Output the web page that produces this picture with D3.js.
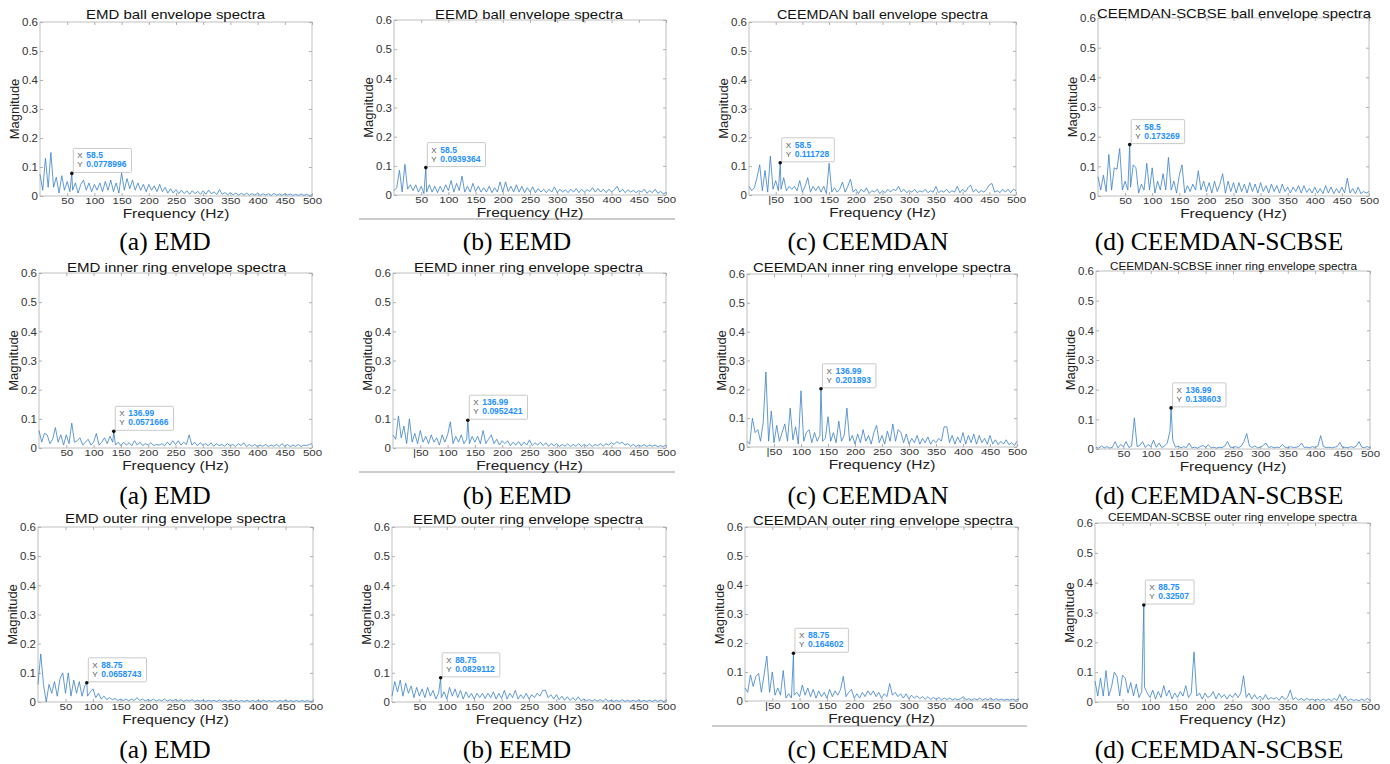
<!DOCTYPE html>
<html>
<head>
<meta charset="utf-8">
<script src="https://cdn.jsdelivr.net/npm/d3@7"></script>
<style>
body { margin: 0; background: #fff; }
text { font-family: "Liberation Sans", Arial, sans-serif; }
</style>
</head>
<body>
<div id="chart"></div>
<script>
const freqs = d3.range(0, 501, 5);

const emdBall = [0.075,0.02,0.13,0.03,0.15,0.03,0.065,0.01,0.07,0.02,0.05,0.015,0.02,0.045,0.01,0.04,0.055,0.02,0.045,0.015,
  0.04,0.02,0.045,0.015,0.05,0.02,0.055,0.015,0.045,0.01,0.08,0.02,0.06,0.025,0.055,0.02,0.045,0.02,0.04,0.015,
  0.04,0.02,0.035,0.015,0.04,0.015,0.03,0.01,0.025,0.01,0.022,0.008,0.02,0.008,0.018,0.006,0.018,0.008,0.016,0.006,
  0.018,0.006,0.02,0.008,0.014,0.005,0.022,0.006,0.012,0.004,0.012,0.004,0.01,0.003,0.009,0.003,0.01,0.003,0.008,0.003,
  0.01,0.002,0.008,0.003,0.008,0.002,0.009,0.003,0.007,0.002,0.008,0.003,0.007,0.002,0.006,0.002,0.007,0.002,0.006,0.002,0.004];
const eemdBall = [0.015,0.025,0.085,0.01,0.105,0.02,0.035,0.015,0.035,0.01,0.03,0.005,0.01,0.035,0.01,0.03,0.008,0.03,0.01,0.035,
  0.015,0.05,0.01,0.04,0.015,0.065,0.01,0.03,0.01,0.04,0.012,0.03,0.01,0.025,0.01,0.03,0.008,0.025,0.01,0.045,
  0.01,0.045,0.012,0.03,0.01,0.035,0.01,0.03,0.008,0.025,0.01,0.028,0.008,0.022,0.01,0.02,0.008,0.02,0.01,0.028,
  0.008,0.02,0.01,0.018,0.008,0.02,0.01,0.022,0.008,0.02,0.01,0.018,0.012,0.025,0.01,0.022,0.01,0.02,0.008,0.02,
  0.01,0.018,0.03,0.01,0.02,0.008,0.018,0.01,0.016,0.008,0.015,0.01,0.02,0.006,0.015,0.008,0.02,0.006,0.012,0.005,0.008];
const ceemdanBall = [0.03,0.015,0.025,0.06,0.105,0.015,0.085,0.01,0.135,0.02,0.05,0.015,0.02,0.06,0.015,0.03,0.02,0.03,0.015,0.05,
  0.01,0.03,0.06,0.01,0.03,0.015,0.03,0.01,0.03,0.005,0.11,0.01,0.025,0.01,0.02,0.045,0.01,0.03,0.055,0.01,
  0.02,0.005,0.02,0.01,0.025,0.005,0.015,0.01,0.02,0.005,0.015,0.008,0.02,0.01,0.02,0.015,0.03,0.01,0.02,0.008,
  0.015,0.01,0.02,0.008,0.015,0.01,0.02,0.008,0.015,0.01,0.03,0.008,0.015,0.01,0.02,0.008,0.015,0.01,0.03,0.008,
  0.02,0.01,0.025,0.035,0.01,0.02,0.008,0.015,0.01,0.02,0.035,0.04,0.01,0.015,0.008,0.02,0.01,0.02,0.008,0.02,0.015];
const scbseBall = [0.065,0.02,0.07,0.015,0.14,0.02,0.095,0.09,0.16,0.02,0.05,0.02,0.03,0.105,0.095,0.01,0.04,0.02,0.11,0.02,
  0.095,0.01,0.05,0.02,0.075,0.02,0.13,0.02,0.05,0.01,0.07,0.105,0.01,0.035,0.015,0.04,0.02,0.085,0.02,0.05,
  0.015,0.045,0.01,0.05,0.015,0.04,0.075,0.01,0.05,0.015,0.045,0.01,0.045,0.015,0.04,0.01,0.045,0.015,0.04,0.01,
  0.045,0.015,0.035,0.01,0.04,0.015,0.035,0.01,0.04,0.015,0.03,0.01,0.03,0.015,0.035,0.01,0.035,0.012,0.025,0.01,
  0.03,0.01,0.025,0.008,0.035,0.01,0.03,0.008,0.025,0.01,0.03,0.01,0.06,0.01,0.025,0.008,0.03,0.008,0.015,0.01,0.015];

const emdInner = [0.06,0.02,0.05,0.045,0.015,0.03,0.07,0.02,0.045,0.01,0.045,0.015,0.085,0.02,0.025,0.035,0.01,0.02,0.03,0.01,
  0.02,0.05,0.01,0.02,0.035,0.015,0.04,0.02,0.01,0.02,0.008,0.02,0.01,0.018,0.008,0.025,0.01,0.02,0.008,0.015,
  0.01,0.018,0.008,0.012,0.01,0.015,0.008,0.02,0.01,0.025,0.012,0.025,0.01,0.02,0.012,0.045,0.01,0.02,0.008,0.018,
  0.01,0.015,0.008,0.018,0.006,0.015,0.008,0.012,0.006,0.015,0.008,0.012,0.005,0.015,0.008,0.018,0.005,0.012,0.006,0.012,
  0.005,0.01,0.006,0.012,0.005,0.01,0.006,0.012,0.005,0.015,0.006,0.012,0.005,0.01,0.006,0.012,0.005,0.01,0.008,0.012,0.015];
const eemdInner = [0.045,0.03,0.11,0.035,0.075,0.015,0.1,0.02,0.05,0.015,0.06,0.02,0.04,0.015,0.045,0.02,0.035,0.01,0.045,0.02,
  0.045,0.09,0.015,0.04,0.02,0.045,0.015,0.03,0.015,0.04,0.02,0.04,0.015,0.06,0.015,0.03,0.045,0.015,0.03,0.01,
  0.025,0.015,0.025,0.008,0.02,0.01,0.022,0.008,0.02,0.01,0.028,0.008,0.018,0.01,0.02,0.008,0.018,0.006,0.015,0.008,
  0.015,0.005,0.012,0.006,0.014,0.005,0.012,0.006,0.015,0.005,0.012,0.006,0.014,0.005,0.012,0.008,0.015,0.006,0.015,0.01,
  0.018,0.012,0.022,0.015,0.02,0.01,0.015,0.006,0.012,0.005,0.01,0.006,0.012,0.005,0.01,0.006,0.01,0.005,0.008,0.005,0.01];
const ceemdanInner = [0.02,0.01,0.1,0.05,0.06,0.02,0.085,0.26,0.02,0.125,0.015,0.075,0.02,0.05,0.08,0.02,0.135,0.025,0.07,0.01,
  0.195,0.02,0.05,0.06,0.015,0.05,0.02,0.04,0.02,0.03,0.105,0.02,0.05,0.015,0.09,0.02,0.04,0.135,0.02,0.04,
  0.01,0.045,0.015,0.06,0.02,0.04,0.01,0.05,0.075,0.015,0.04,0.01,0.055,0.02,0.08,0.02,0.06,0.05,0.015,0.045,
  0.01,0.03,0.015,0.04,0.01,0.03,0.015,0.035,0.01,0.025,0.015,0.03,0.02,0.07,0.07,0.015,0.04,0.01,0.035,0.015,
  0.05,0.01,0.04,0.015,0.045,0.01,0.04,0.015,0.03,0.01,0.04,0.01,0.025,0.008,0.02,0.01,0.025,0.008,0.015,0.005,0.02];
const scbseInner = [0.005,0.003,0.01,0.004,0.008,0.003,0.006,0.025,0.004,0.015,0.008,0.025,0.005,0.01,0.105,0.008,0.012,0.025,0.005,0.015,
  0.008,0.03,0.006,0.02,0.005,0.01,0.02,0.06,0.03,0.006,0.01,0.004,0.008,0.005,0.02,0.004,0.006,0.003,0.008,0.012,
  0.005,0.015,0.004,0.006,0.003,0.006,0.005,0.01,0.025,0.006,0.005,0.008,0.004,0.01,0.025,0.052,0.01,0.005,0.01,0.004,
  0.006,0.012,0.02,0.005,0.008,0.004,0.006,0.005,0.015,0.006,0.004,0.008,0.005,0.006,0.008,0.02,0.005,0.006,0.004,0.008,
  0.005,0.01,0.045,0.008,0.005,0.006,0.004,0.006,0.008,0.022,0.005,0.006,0.004,0.008,0.005,0.01,0.025,0.006,0.005,0.008,0.004];

const emdOuter = [0.06,0.165,0.06,0.0,0.06,0.03,0.07,0.02,0.08,0.1,0.03,0.1,0.02,0.075,0.03,0.07,0.02,0.055,0.02,0.035,
  0.045,0.015,0.03,0.01,0.02,0.008,0.015,0.008,0.012,0.005,0.01,0.005,0.01,0.004,0.01,0.005,0.015,0.005,0.01,0.004,
  0.008,0.004,0.01,0.003,0.008,0.004,0.01,0.003,0.008,0.003,0.009,0.003,0.008,0.002,0.007,0.003,0.008,0.002,0.006,0.003,
  0.007,0.002,0.006,0.003,0.006,0.002,0.007,0.002,0.006,0.002,0.005,0.002,0.006,0.002,0.005,0.002,0.006,0.002,0.005,0.002,
  0.005,0.002,0.006,0.002,0.005,0.002,0.005,0.002,0.005,0.002,0.006,0.002,0.005,0.002,0.005,0.002,0.005,0.002,0.005,0.002,0.004];
const eemdOuter = [0.02,0.07,0.035,0.075,0.02,0.065,0.03,0.055,0.015,0.05,0.02,0.045,0.015,0.05,0.02,0.04,0.01,0.03,0.015,0.035,
  0.01,0.05,0.02,0.045,0.015,0.04,0.01,0.035,0.015,0.03,0.01,0.03,0.015,0.03,0.012,0.03,0.015,0.035,0.01,0.03,
  0.012,0.04,0.01,0.03,0.015,0.04,0.01,0.025,0.012,0.03,0.01,0.025,0.015,0.03,0.02,0.04,0.04,0.015,0.025,0.01,
  0.025,0.008,0.02,0.006,0.018,0.005,0.015,0.005,0.018,0.004,0.01,0.004,0.008,0.003,0.008,0.003,0.008,0.002,0.01,0.003,
  0.006,0.002,0.006,0.002,0.008,0.002,0.006,0.002,0.006,0.002,0.007,0.002,0.006,0.002,0.006,0.002,0.007,0.002,0.006,0.002,0.005];
const ceemdanOuter = [0.045,0.03,0.09,0.05,0.085,0.095,0.03,0.09,0.155,0.03,0.1,0.02,0.045,0.02,0.105,0.01,0.025,0.01,0.02,0.03,
  0.015,0.055,0.02,0.045,0.015,0.04,0.01,0.035,0.015,0.03,0.01,0.04,0.015,0.035,0.02,0.04,0.085,0.015,0.03,0.04,
  0.01,0.025,0.01,0.03,0.015,0.035,0.02,0.035,0.015,0.03,0.01,0.025,0.015,0.06,0.02,0.03,0.015,0.025,0.01,0.025,
  0.008,0.02,0.01,0.018,0.008,0.015,0.006,0.015,0.005,0.012,0.006,0.012,0.004,0.01,0.005,0.01,0.004,0.008,0.004,0.008,
  0.015,0.004,0.008,0.003,0.008,0.004,0.01,0.003,0.008,0.004,0.01,0.003,0.008,0.003,0.007,0.003,0.006,0.003,0.007,0.003,0.006];
const scbseOuter = [0.07,0.02,0.08,0.02,0.105,0.02,0.05,0.1,0.085,0.02,0.09,0.08,0.03,0.065,0.02,0.06,0.015,0.035,0.05,0.03,
  0.015,0.04,0.01,0.035,0.015,0.055,0.02,0.04,0.01,0.03,0.015,0.035,0.02,0.055,0.015,0.03,0.168,0.02,0.03,0.01,
  0.03,0.015,0.02,0.035,0.01,0.03,0.015,0.025,0.01,0.025,0.015,0.03,0.015,0.03,0.088,0.015,0.03,0.01,0.025,0.01,
  0.02,0.008,0.025,0.008,0.015,0.01,0.015,0.006,0.02,0.008,0.015,0.04,0.008,0.015,0.006,0.012,0.005,0.012,0.006,0.01,
  0.005,0.01,0.004,0.01,0.005,0.01,0.004,0.012,0.005,0.025,0.005,0.02,0.004,0.01,0.005,0.008,0.004,0.01,0.004,0.012,0.005];

// Data-tip readouts (one frequency per fault type, magnitude per method)
const tipFreq = [58.5, 136.99, 88.75];
const tipFreqText = ["58.5", "136.99", "88.75"];
const tipMag = [
  [0.0778996, 0.0939364, 0.111728, 0.173269],
  [0.0571666, 0.0952421, 0.201893, 0.138603],
  [0.0658743, 0.0829112, 0.164602, 0.32507]
];
const tipMagText = [
  ["0.0778996", "0.0939364", "0.111728", "0.173269"],
  ["0.0571666", "0.0952421", "0.201893", "0.138603"],
  ["0.0658743", "0.0829112", "0.164602", "0.32507"]
];

const methods = ["EMD", "EEMD", "CEEMDAN", "CEEMDAN-SCBSE"];
const faults = ["ball", "inner ring", "outer ring"];
const captions = ["(a) EMD", "(b) EEMD", "(c) CEEMDAN", "(d) CEEMDAN-SCBSE"];
const xTicks = [50, 100, 150, 200, 250, 300, 350, 400, 450, 500];
const yTicks = [0, 0.1, 0.2, 0.3, 0.4, 0.5, 0.6];

const series = [
  [emdBall, eemdBall, ceemdanBall, scbseBall],
  [emdInner, eemdInner, ceemdanInner, scbseInner],
  [emdOuter, eemdOuter, ceemdanOuter, scbseOuter]
];

const layout = [
  {l:40,t:22,r:312,b:196, tt:[86,265,14], bar:false},
  {l:394,t:20,r:666,b:195, tt:[435,623,14], bar:false},
  {l:749,t:22,r:1016,b:195, tt:[777,988,14], bar:true},
  {l:1098,t:18,r:1369,b:196, tt:[1097,1371,13], bar:false},
  {l:39,t:273,r:312,b:448, tt:[67,286,267], bar:false},
  {l:393,t:273,r:666,b:448, tt:[414,643,267], bar:true},
  {l:747,t:274,r:1017,b:447, tt:[753,1011,267], bar:true},
  {l:1096,t:271,r:1370,b:449, tt:[1110,1357,266], bar:false},
  {l:38,t:527,r:313,b:702, tt:[65,286,518], bar:false},
  {l:392,t:527,r:666,b:702, tt:[413,643,519], bar:false},
  {l:745,t:527,r:1018,b:701, tt:[753,1013,520], bar:true},
  {l:1095,t:523,r:1370,b:702, tt:[1108,1357,517], bar:false}
];
const captionX = [165, 517, 868, 1219];
const captionY = [250, 504, 758];

const svg = d3.select("#chart").append("svg")
    .attr("width", 1390)
    .attr("height", 764)
    .style("background", "#fff");

// thin rules left over from the page layout
[[359, 675, 219], [359, 675, 472], [712, 1027, 726]].forEach(r => {
  svg.append("line")
      .attr("x1", r[0]).attr("x2", r[1]).attr("y1", r[2]).attr("y2", r[2])
      .attr("stroke", "#9a9a9a").attr("stroke-width", 1);
});

layout.forEach((p, k) => {
  const row = Math.floor(k / 4), col = k % 4;
  const x = d3.scaleLinear().domain([0, 500]).range([p.l, p.r]);
  const y = d3.scaleLinear().domain([0, 0.6]).range([p.b, p.t]);
  const g = svg.append("g");

  // axes with inward ticks on all four sides
  const fmtX = d => (p.bar && d === 50) ? "|50" : d;
  const fmtY = d => d === 0 ? "0" : d.toFixed(1);
  const ax = [
    g.append("g").attr("transform", `translate(0,${p.b})`)
      .call(d3.axisBottom(x).tickValues(xTicks).tickSize(-3).tickFormat(fmtX)),
    g.append("g").attr("transform", `translate(0,${p.t})`)
      .call(d3.axisTop(x).tickValues(xTicks).tickSize(-3).tickFormat("")),
    g.append("g").attr("transform", `translate(${p.l},0)`)
      .call(d3.axisLeft(y).tickValues(yTicks).tickSize(-3).tickPadding(2).tickFormat(fmtY)),
    g.append("g").attr("transform", `translate(${p.r},0)`)
      .call(d3.axisRight(y).tickValues(yTicks).tickSize(-3).tickFormat(""))
  ];
  ax.forEach(a => {
    a.select(".domain").remove();
    a.selectAll("line").attr("stroke", "#b0b0b0");
    a.selectAll("text").attr("fill", "#333").style("font-size", "11.5px")
      .style("font-family", "'Liberation Sans', Arial, sans-serif");
  });
  // the source figure is squeezed vertically: flatten the x tick labels to fit
  ax[0].selectAll("text")
      .attr("y", null).attr("dy", null)
      .attr("transform", "translate(0,8) scale(1,0.8)");

  g.append("rect")
      .attr("x", p.l).attr("y", p.t)
      .attr("width", p.r - p.l).attr("height", p.b - p.t)
      .attr("fill", "none").attr("stroke", "#b0b0b0").attr("stroke-width", 0.8);

  // spectrum line, with the data-tip sample merged in
  const vals = series[row][col];
  const pts = freqs.map((f, i) => [f, vals[i]]);
  pts.push([tipFreq[row], tipMag[row][col]]);
  pts.sort((a, b) => a[0] - b[0]);
  g.append("path")
      .datum(pts)
      .attr("fill", "none")
      .attr("stroke", "#3a80c6")
      .attr("stroke-width", 0.8)
      .attr("d", d3.line().x(d => x(d[0])).y(d => y(d[1])));

  // titles and axis labels
  g.append("text")
      .attr("x", (p.tt[0] + p.tt[1]) / 2).attr("y", p.tt[2]).attr("dy", "0.35em")
      .attr("text-anchor", "middle")
      .attr("textLength", p.tt[1] - p.tt[0]).attr("lengthAdjust", "spacingAndGlyphs")
      .style("font-size", col === 3 && row > 0 ? "10.5px" : "13px")
      .attr("fill", "#111")
      .text(`${methods[col]} ${faults[row]} envelope spectra`);

  g.append("text")
      .attr("transform", `translate(${(p.l + p.r) / 2},${p.b + 22}) scale(1,0.85)`)
      .attr("text-anchor", "middle")
      .style("font-size", "15.5px").attr("fill", "#222")
      .text("Frequency (Hz)");

  g.append("text")
      .attr("transform", `translate(${p.l - 26},${(p.t + p.b) / 2}) rotate(-90)`)
      .attr("dy", "0.35em")
      .attr("text-anchor", "middle")
      .style("font-size", "13px").attr("fill", "#222")
      .text("Magnitude");

  // data tip
  const px = x(tipFreq[row]), py = y(tipMag[row][col]);
  const tip = g.append("g").attr("transform", `translate(${px + 1.5},${py - 25})`);
  const box = tip.append("rect").attr("height", 24).attr("rx", 1)
      .attr("fill", "#fff").attr("fill-opacity", 0.92)
      .attr("stroke", "#bdbdbd").attr("stroke-width", 0.8);
  [["X", tipFreqText[row], 10], ["Y", tipMagText[row][col], 19]].forEach(t => {
    tip.append("text").attr("x", 4).attr("y", t[2])
        .style("font-size", "8px").attr("fill", "#555").text(t[0]);
    tip.append("text").attr("x", 13).attr("y", t[2])
        .style("font-size", "8.5px").style("font-weight", "bold").attr("fill", "#1e90ff").text(t[1]);
  });
  const w = d3.max(tip.selectAll("text").nodes(), n => n.getComputedTextLength() + +n.getAttribute("x"));
  box.attr("width", w + 5);
  g.append("circle").attr("cx", px).attr("cy", py).attr("r", 1.8).attr("fill", "#111");

  // sub-figure caption
  svg.append("text")
      .attr("x", captionX[col]).attr("y", captionY[row])
      .attr("text-anchor", "middle")
      .style("font-family", "'Liberation Serif', 'Times New Roman', serif")
      .style("font-size", "25.5px").attr("fill", "#000")
      .text(captions[col]);
});
</script>
</body>
</html>
